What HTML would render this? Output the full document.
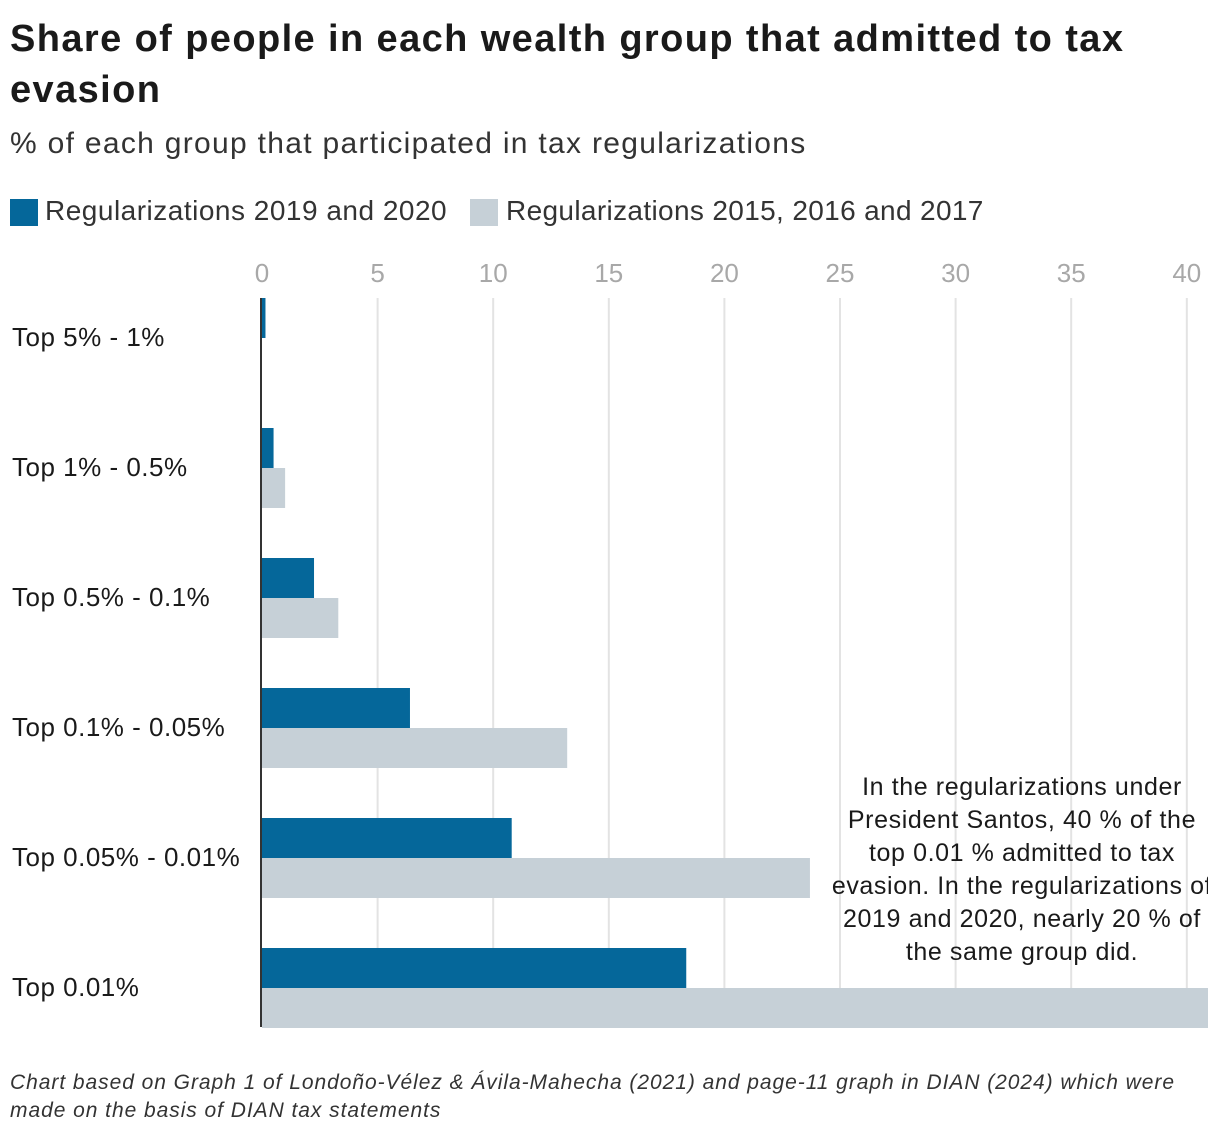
<!DOCTYPE html>
<html><head><meta charset="utf-8">
<style>
html,body{margin:0;padding:0;background:#fff;}
body{width:1220px;height:1138px;position:relative;overflow:hidden;font-family:"Liberation Sans",sans-serif;color:#1a1a1a;}
.t{position:absolute;white-space:nowrap;}
</style></head><body>
<div class="t" style="left:10px;top:14px;font-size:38px;font-weight:bold;line-height:51px;white-space:normal;width:1170px;letter-spacing:1.4px;">Share of people in each wealth group that admitted to tax evasion</div>
<div class="t" style="left:10px;top:127px;font-size:30px;letter-spacing:1.3px;color:#333;">% of each group that participated in tax regularizations</div>
<div>
<div style="position:absolute;left:10px;top:199px;width:28px;height:27px;background:#05679a;"></div>
<div class="t" style="left:45px;top:195px;font-size:28px;letter-spacing:0.5px;color:#333;">Regularizations 2019 and 2020</div>
<div style="position:absolute;left:470px;top:199px;width:28px;height:27px;background:#c6d0d7;"></div>
<div class="t" style="left:506px;top:195px;font-size:28px;letter-spacing:0.35px;color:#333;">Regularizations 2015, 2016 and 2017</div>
</div>
<svg id="chart" width="1220" height="1138" style="position:absolute;left:0;top:0;"></svg>
<div class="t" style="left:10px;top:1069px;font-size:21px;letter-spacing:0.95px;font-style:italic;line-height:28px;color:#333;white-space:normal;width:1200px;">Chart based on Graph 1 of Londoño-Vélez &amp; Ávila-Mahecha (2021) and page-11 graph in DIAN (2024) which were made on the basis of DIAN tax statements</div>
<script>
const categories=["Top 5% - 1%","Top 1% - 0.5%","Top 0.5% - 0.1%","Top 0.1% - 0.05%","Top 0.05% - 0.01%","Top 0.01%"];
const series2019=[0.15,0.5,2.25,6.4,10.8,18.35];
const series2015=[0,1.0,3.3,13.2,23.7,41];
const ticks=[0,5,10,15,20,25,30,35,40];
const NS="http://www.w3.org/2000/svg";
const svg=document.getElementById('chart');
const x0=262, pxPer=23.12, plotR=1208, top0=298, band=130, barH=40, bottom=1027;
const x=v=>x0+v*pxPer;
const yb=i=>top0+i*band;
function mk(tag,a){const e=document.createElementNS(NS,tag);for(const k in a)e.setAttribute(k,a[k]);svg.appendChild(e);return e;}
const defs=mk('defs',{});
const cp=document.createElementNS(NS,'clipPath');cp.setAttribute('id','plotclip');defs.appendChild(cp);
const cr=document.createElementNS(NS,'rect');cr.setAttribute('x',0);cr.setAttribute('y',0);cr.setAttribute('width',plotR);cr.setAttribute('height',1138);cp.appendChild(cr);
ticks.forEach(t=>{
  if(t>0){const g=mk('line',{x1:x(t),x2:x(t),y1:top0,y2:bottom,stroke:'#e3e3e3','stroke-width':2});
  
  }
  const l=mk('text',{x:x(t),y:282,'text-anchor':'middle','font-size':26,fill:'#a8a8a8','font-family':'Liberation Sans, sans-serif'});
  l.textContent=t;
  
  
});
categories.forEach((c,i)=>{
  const l=mk('text',{x:12,y:yb(i)+48,'font-size':26,'letter-spacing':0.5,fill:'#1a1a1a','font-family':'Liberation Sans, sans-serif'});
  l.textContent=c;
  
  
  const b=mk('rect',{x:x0,y:yb(i),width:Math.max(0,x(series2019[i])-x0),height:barH,fill:'#05679a','clip-path':'url(#plotclip)'});
  
  
  const g=mk('rect',{x:x0,y:yb(i)+barH,width:Math.max(0,x(series2015[i])-x0),height:barH,fill:'#c6d0d7','clip-path':'url(#plotclip)'});
  
  
});
const ax=mk('line',{x1:261,x2:261,y1:top0,y2:bottom,stroke:'#333','stroke-width':2});


const ann=["In the regularizations under","President Santos, 40 % of the","top 0.01 % admitted to tax","evasion. In the regularizations of","2019 and 2020, nearly 20 % of","the same group did."];
const ag=mk('g',{'clip-path':'url(#plotclip)'});


ann.forEach((s,i)=>{const t=document.createElementNS(NS,'text');
  t.setAttribute('x',1022);t.setAttribute('y',795+i*33);t.setAttribute('text-anchor','middle');
  t.setAttribute('font-size',25);t.setAttribute('letter-spacing',0.6);t.setAttribute('fill','#1a1a1a');t.setAttribute('font-family','Liberation Sans, sans-serif');
  t.textContent=s;ag.appendChild(t);});
</script>
</body></html>
